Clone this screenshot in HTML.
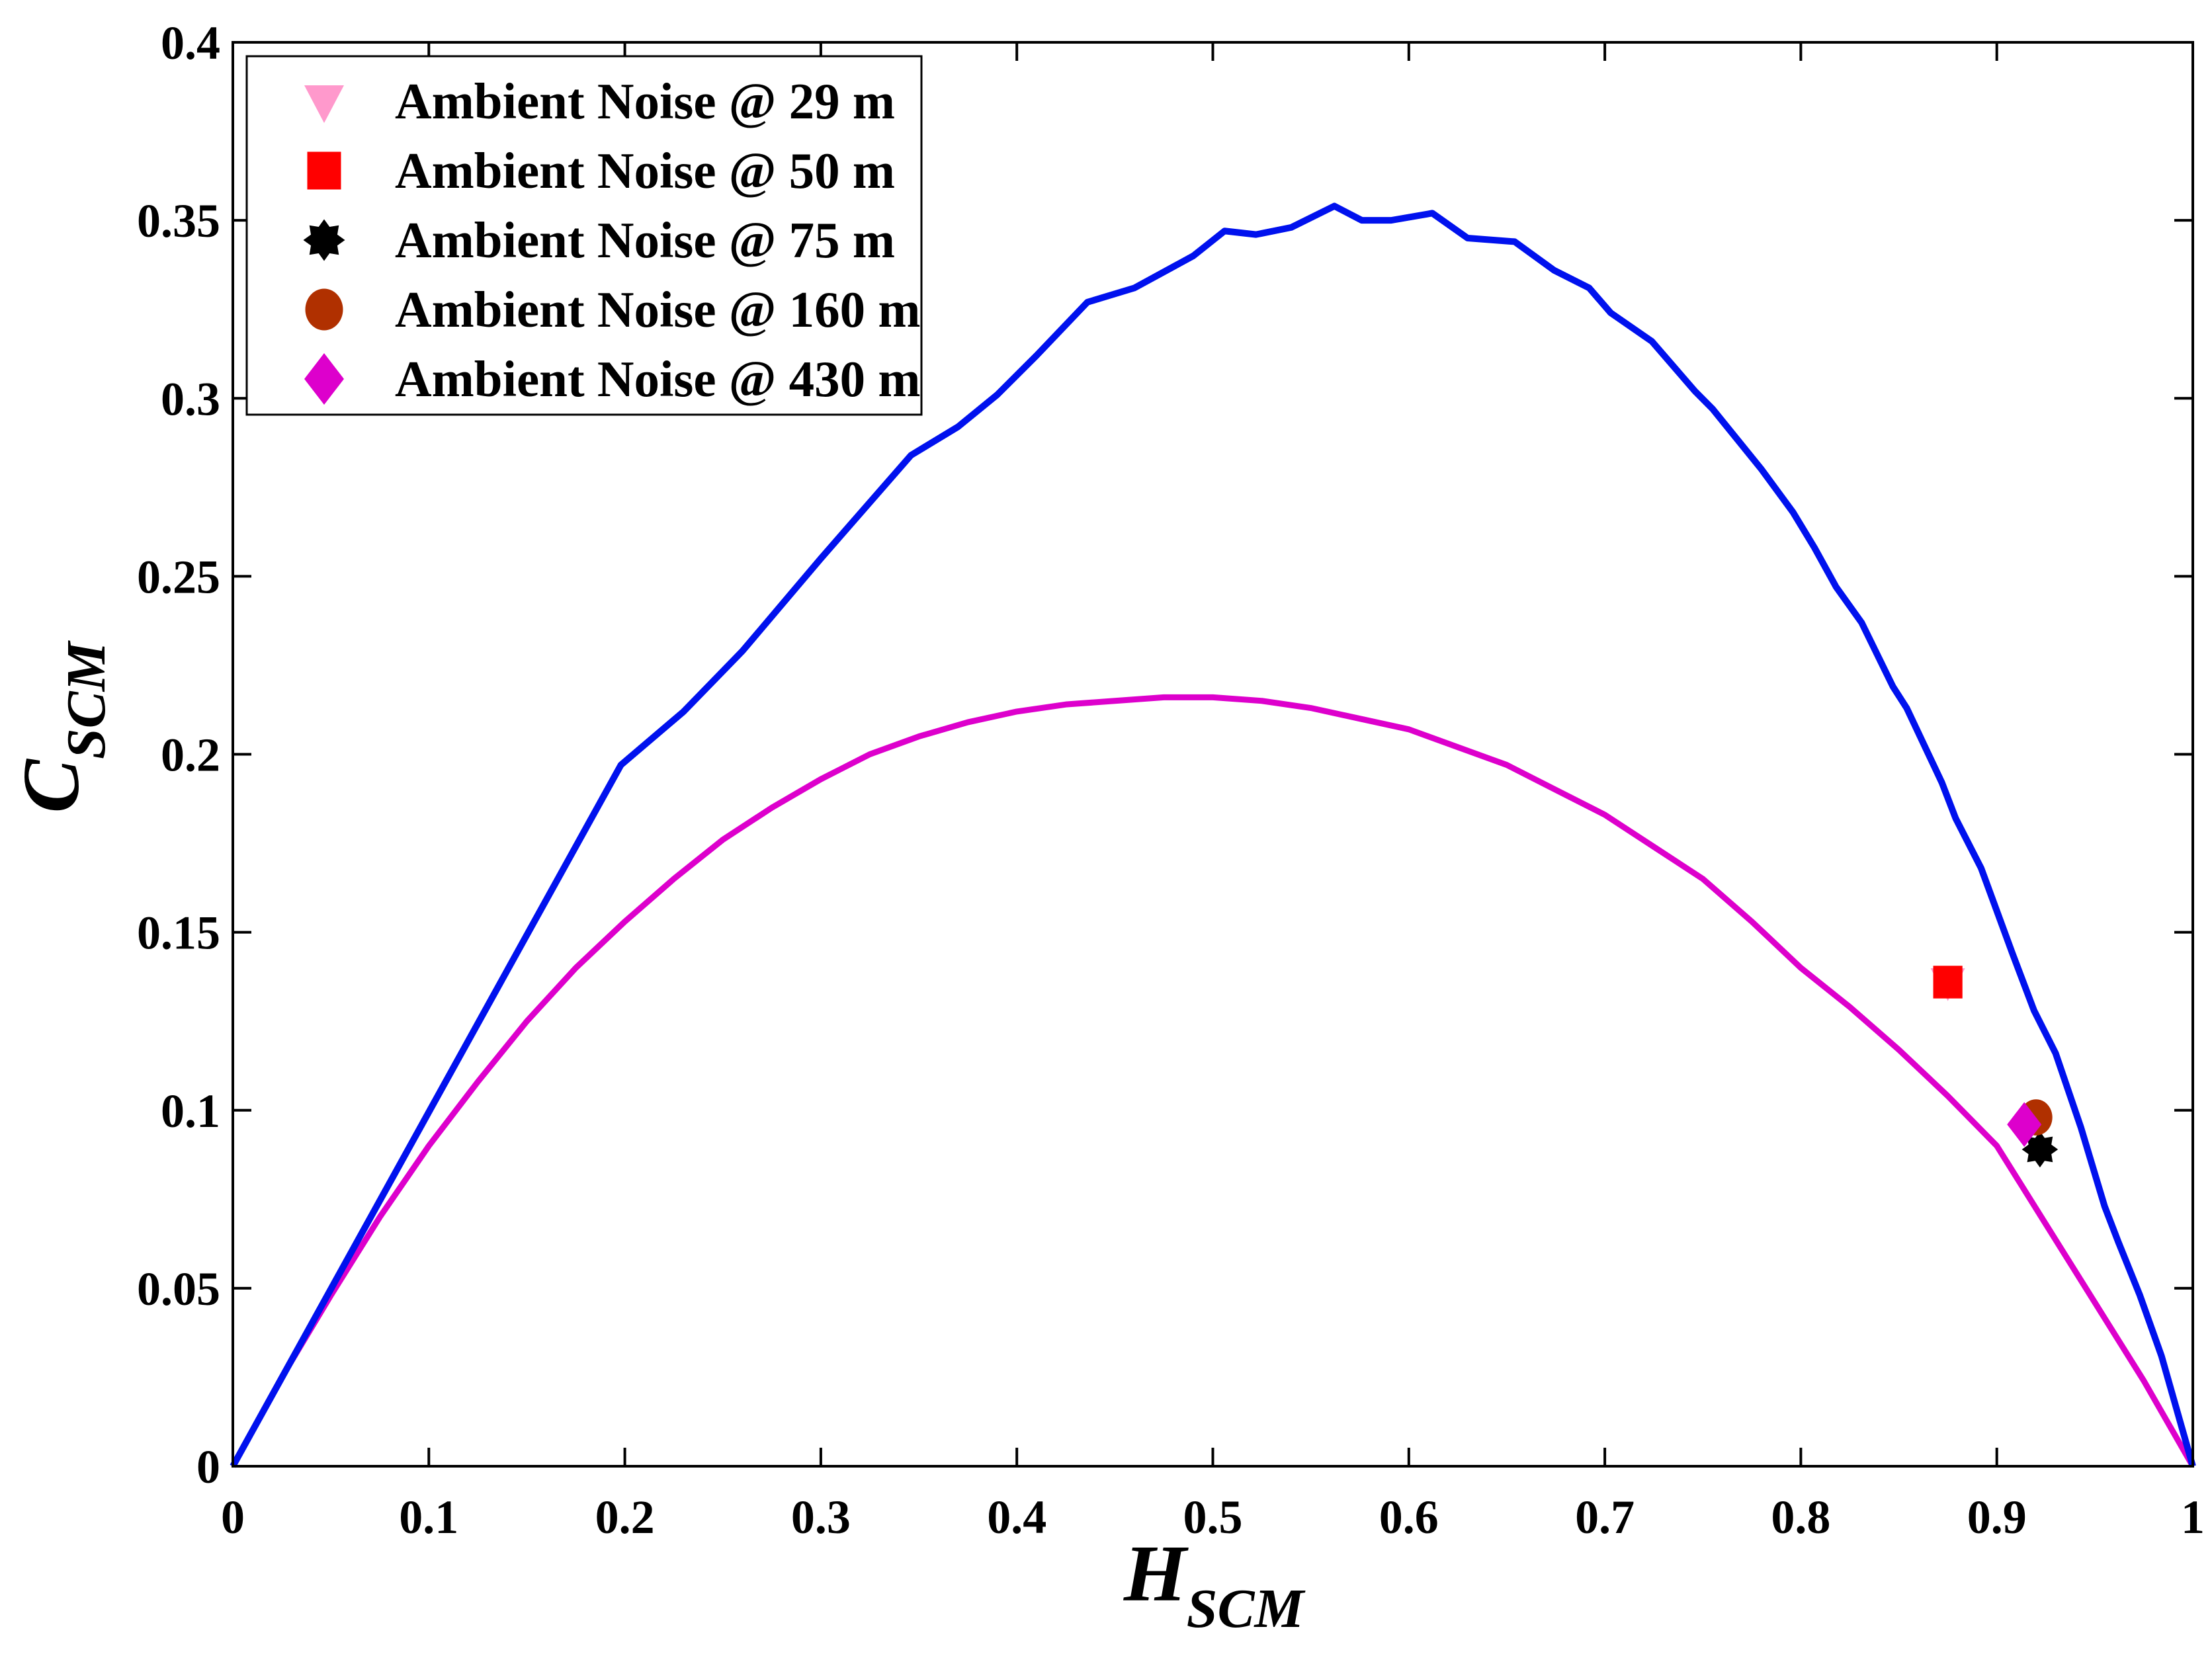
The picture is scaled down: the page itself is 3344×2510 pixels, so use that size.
<!DOCTYPE html>
<html><head><meta charset="utf-8"><style>
html,body{margin:0;padding:0;background:#fff}
svg{display:block}
text{font-family:"Liberation Serif",serif;font-weight:bold}
</style></head><body>
<svg id="chart" width="3344" height="2510" viewBox="0 0 3344 2510" xmlns="http://www.w3.org/2000/svg">
<rect width="3344" height="2510" fill="#fff"/>
<g id="plot"></g>
</svg>
<script>
const xTicks=[0,0.1,0.2,0.3,0.4,0.5,0.6,0.7,0.8,0.9,1];
const xTickLabels=["0","0.1","0.2","0.3","0.4","0.5","0.6","0.7","0.8","0.9","1"];
const yTicks=[0,0.05,0.1,0.15,0.2,0.25,0.3,0.35,0.4];
const yTickLabels=["0","0.05","0.1","0.15","0.2","0.25","0.3","0.35","0.4"];
const maxH=[0,0.198,0.23,0.26,0.30,0.346,0.37,0.39,0.41,0.436,0.46,0.49,0.506,0.522,0.54,0.562,0.576,0.591,0.612,0.63,0.654,0.674,0.692,0.703,0.724,0.746,0.755,0.78,0.796,0.807,0.818,0.831,0.847,0.854,0.872,0.879,0.892,0.908,0.919,0.93,0.943,0.955,0.962,0.973,0.984,1];
const maxC=[0,0.197,0.212,0.229,0.255,0.284,0.292,0.301,0.312,0.327,0.331,0.340,0.347,0.346,0.348,0.354,0.350,0.350,0.352,0.345,0.344,0.336,0.331,0.324,0.316,0.302,0.297,0.280,0.268,0.258,0.247,0.237,0.219,0.213,0.192,0.182,0.168,0.144,0.128,0.116,0.095,0.073,0.063,0.048,0.031,0];
const minH=[0,0.025,0.05,0.075,0.1,0.125,0.15,0.175,0.2,0.225,0.25,0.275,0.3,0.325,0.35,0.375,0.4,0.425,0.45,0.475,0.5,0.525,0.55,0.575,0.6,0.625,0.65,0.675,0.7,0.725,0.75,0.775,0.8,0.825,0.85,0.875,0.9,0.925,0.95,0.975,1];
const minC=[0,0.025,0.048,0.07,0.09,0.108,0.125,0.14,0.153,0.165,0.176,0.185,0.193,0.2,0.205,0.209,0.212,0.214,0.215,0.216,0.216,0.215,0.213,0.21,0.207,0.202,0.197,0.19,0.183,0.174,0.165,0.153,0.14,0.129,0.117,0.104,0.09,0.068,0.046,0.024,0];
const seriesNames=["Ambient Noise @ 29 m","Ambient Noise @ 50 m","Ambient Noise @ 75 m","Ambient Noise @ 160 m","Ambient Noise @ 430 m"];
const seriesH=[0.875,0.875,0.922,0.92,0.914];
const seriesC=[0.136,0.136,0.089,0.098,0.096];
const seriesColors=["#ff99cc","#ff0000","#000000","#b03000","#dd00cc"];
const seriesShapes=["tri","square","star","circle","diamond"];

const L=352,R=3315,T=64,B=2217;
const sx=v=>L+v*(R-L);
const sy=v=>B-(v/0.4)*(B-T);
const NS="http://www.w3.org/2000/svg";
const g=document.getElementById('plot');
function mk(tag,attrs,parent){const e=document.createElementNS(NS,tag);for(const k in attrs)e.setAttribute(k,attrs[k]);(parent||g).appendChild(e);return e;}

function marker(shape,cx,cy,color,parent,s){
  let e;
  if(shape==="tri")e=mk('polygon',{points:`${cx-s},${cy-s*0.8} ${cx+s},${cy-s*0.8} ${cx},${cy+s*1.1}`,fill:color},parent);
  else if(shape==="square")e=mk('rect',{x:cx-s*0.85,y:cy-s*0.95,width:1.7*s,height:1.9*s,fill:color},parent);
  else if(shape==="circle")e=mk('ellipse',{cx:cx,cy:cy,rx:s*0.95,ry:s*1.05,fill:color},parent);
  else if(shape==="diamond")e=mk('polygon',{points:`${cx},${cy-s*1.3} ${cx+s*1.0},${cy} ${cx},${cy+s*1.3} ${cx-s*1.0},${cy}`,fill:color},parent);
  else{let p=[];for(let i=0;i<16;i++){const a=i*Math.PI/8,r=i%2?s*0.72:s*1.05;p.push((cx+r*Math.sin(a))+","+(cy-r*Math.cos(a)));}e=mk('polygon',{points:p.join(" "),fill:color},parent);}
  return e;
}

const minPath=mk('path',{d:minH.map((h,i)=>(i?'L':'M')+sx(h)+','+sy(minC[i])).join(''),fill:'none',stroke:'#dd00cc','stroke-width':9,'stroke-linejoin':'round'});


const maxPath=mk('path',{d:maxH.map((h,i)=>(i?'L':'M')+sx(h)+','+sy(maxC[i])).join(''),fill:'none',stroke:'#0011ee','stroke-width':10,'stroke-linejoin':'round'});



seriesH.forEach((h,i)=>{
  const m=marker(seriesShapes[i],sx(h),sy(seriesC[i]),seriesColors[i],g,26);
  
  
});

const fr=mk('rect',{x:L,y:T,width:R-L,height:B-T,fill:'none',stroke:'#000','stroke-width':4});



xTicks.forEach((v,i)=>{
  const x=sx(v);
  mk('line',{x1:x,y1:B,x2:x,y2:B-28,stroke:'#000','stroke-width':4});
  mk('line',{x1:x,y1:T,x2:x,y2:T+28,stroke:'#000','stroke-width':4});
  const t=mk('text',{x:x,y:2318,'font-size':72,'text-anchor':'middle'});
  t.textContent=xTickLabels[i];
  
  
});
yTicks.forEach((v,i)=>{
  const y=sy(v);
  mk('line',{x1:L,y1:y,x2:L+28,y2:y,stroke:'#000','stroke-width':4});
  mk('line',{x1:R,y1:y,x2:R-28,y2:y,stroke:'#000','stroke-width':4});
  const t=mk('text',{x:333,y:y+25,'font-size':72,'text-anchor':'end'});
  t.textContent=yTickLabels[i];
  
  
});

const xt=mk('text',{x:1835,y:2420,'font-size':122,'font-style':'italic','text-anchor':'middle'});
xt.innerHTML='H<tspan font-size="84" dy="40">SCM</tspan>';


const yt=mk('text',{x:0,y:0,'font-size':122,'font-style':'italic','text-anchor':'middle',transform:'translate(118,1100) rotate(-90)'});
yt.innerHTML='C<tspan font-size="84" dy="40">SCM</tspan>';



const lg=mk('g',{});


mk('rect',{x:373,y:85,width:1020,height:542,fill:'#fff',stroke:'#000','stroke-width':3},lg);
seriesNames.forEach((n,i)=>{
  const cy=153+i*105;
  const e=mk('g',{},lg);
  
  
  marker(seriesShapes[i],490,cy,seriesColors[i],e,30);
  const t=mk('text',{x:597,y:cy+26,'font-size':77},e);
  t.textContent=n;
});
</script>
</body></html>
